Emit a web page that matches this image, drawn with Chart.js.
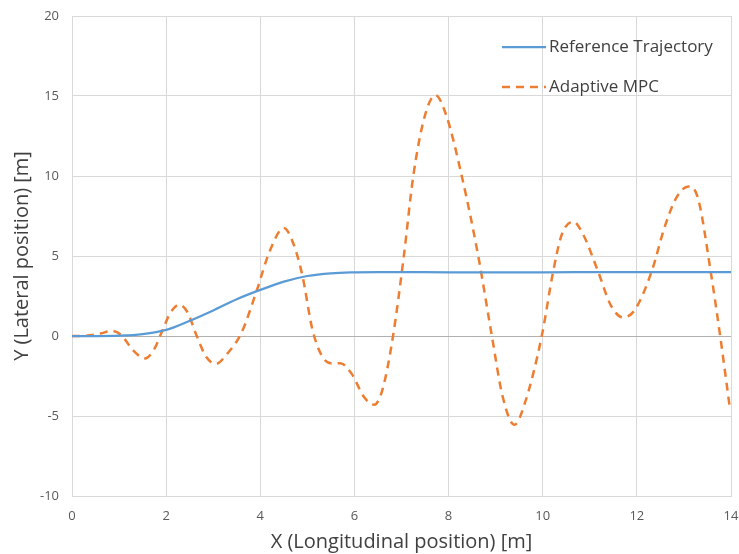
<!DOCTYPE html>
<html>
<head>
<meta charset="utf-8">
<script src="https://cdn.jsdelivr.net/npm/chart.js@4/dist/chart.umd.min.js"></script>
<style>
  html, body { margin: 0; padding: 0; background: #ffffff; }
  #wrap { width: 739px; height: 554px; position: relative; }
</style>
</head>
<body>
<div id="wrap"><canvas id="c" width="739" height="554"></canvas></div>
<script>
// ---- Data ----
const seriesNames = ['Reference Trajectory', 'Adaptive MPC'];

const refX = [0, 0.5, 1, 1.5, 2, 2.5, 3, 3.5, 4, 4.5, 5, 5.5, 6, 6.5, 7, 8, 9, 10, 11, 12, 13, 14];
const refY = [0, 0.0, 0.02, 0.12, 0.38, 0.95, 1.6, 2.3, 2.88, 3.4, 3.75, 3.92, 3.98, 4.0, 4.0, 3.98, 3.98, 3.98, 3.99, 4.0, 4.0, 4.0];

const mpcX = [0, 0.3, 0.6, 0.85, 1.05, 1.3, 1.55, 1.75, 1.9, 2.1, 2.28, 2.45, 2.65, 2.85, 3.05, 3.3, 3.6, 3.92,
              4.2, 4.5, 4.7, 4.9, 5.1, 5.3, 5.5, 5.7, 5.95, 6.2, 6.42, 6.6, 6.82, 7.05, 7.25, 7.5, 7.72, 7.95,
              8.28, 8.63, 8.92, 9.15, 9.4, 9.62, 9.98, 10.22, 10.4, 10.65, 10.85, 11.18, 11.45, 11.7, 11.95,
              12.31, 12.6, 12.85, 13.1, 13.3, 13.57, 13.77, 13.98];
const mpcY = [0, 0.02, 0.15, 0.32, 0.05, -0.9, -1.4, -0.8, 0.2, 1.5, 1.95, 1.5, 0.0, -1.3, -1.75, -1.1, 0.2, 2.8,
              5.3, 6.75, 5.8, 3.7, 0.5, -1.2, -1.7, -1.7, -2.4, -3.8, -4.3, -3.3, 0.0, 5.0, 10, 13.8, 15.05, 13.8,
              10, 5, 0, -3.8, -5.55, -4.2, 0, 4, 6.3, 7.15, 6.4, 4, 1.9, 1.17, 1.6,
              4, 6.9, 8.7, 9.35, 8.6, 4, 0, -4.6];

const xTicks = [0, 2, 4, 6, 8, 10, 12, 14];
const yTicks = [-10, -5, 0, 5, 10, 15, 20];
const xTitle = 'X (Longitudinal position) [m]';
const yTitle = 'Y (Lateral position) [m]';

// ---- Build datasets ----
const toPts = (xs, ys) => xs.map((x, i) => ({ x: x, y: ys[i] }));

const FONT = "'Open Sans', 'Liberation Sans', sans-serif";

const insideLegend = {
  id: 'insideLegend',
  afterDraw(chart) {
    const ctx = chart.ctx;
    const rows = [47, 87];
    ctx.save();
    chart.data.datasets.forEach((ds, i) => {
      const y = rows[i];
      ctx.beginPath();
      ctx.strokeStyle = ds.borderColor;
      ctx.lineWidth = ds.borderWidth;
      ctx.setLineDash(ds.borderDash || []);
      ctx.moveTo(502, y);
      ctx.lineTo(546, y);
      ctx.stroke();
      ctx.setLineDash([]);
      ctx.fillStyle = '#404040';
      ctx.font = "17px " + FONT;
      ctx.textBaseline = 'middle';
      ctx.textAlign = 'left';
      ctx.fillText(ds.label, 549, y);
    });
    ctx.restore();
  }
};

new Chart(document.getElementById('c'), {
  type: 'line',
  data: {
    datasets: [
      {
        label: seriesNames[0],
        data: toPts(refX, refY),
        borderColor: '#5B9BD5',
        borderWidth: 2.25,
        pointRadius: 0,
        cubicInterpolationMode: 'monotone',
        fill: false
      },
      {
        label: seriesNames[1],
        data: toPts(mpcX, mpcY),
        borderColor: '#ED7D31',
        borderWidth: 2.5,
        borderDash: [8, 6],
        pointRadius: 0,
        cubicInterpolationMode: 'monotone',
        fill: false
      }
    ]
  },
  options: {
    responsive: false,
    animation: false,
    devicePixelRatio: 1,
    layout: { padding: { left: 0, right: 8, top: 16, bottom: 0 } },
    plugins: {
      legend: { display: false },
      tooltip: { enabled: false }
    },
    scales: {
      x: {
        type: 'linear',
        min: xTicks[0],
        max: xTicks[xTicks.length - 1],
        afterBuildTicks: (s) => { s.ticks = xTicks.map(v => ({ value: v })); },
        afterFit: (s) => { s.height = 58; s.paddingLeft = 0; s.paddingRight = 0; },
        grid: { color: '#d9d9d9', lineWidth: 1, drawTicks: false },
        border: { color: '#d9d9d9' },
        ticks: { color: '#595959', font: { family: FONT, size: 13 }, padding: 12, maxRotation: 0 },
        title: { display: true, text: xTitle, color: '#404040', font: { family: FONT, size: 20 }, padding: { top: 0, bottom: 0 } }
      },
      y: {
        type: 'linear',
        min: yTicks[0],
        max: yTicks[yTicks.length - 1],
        afterBuildTicks: (s) => { s.ticks = yTicks.map(v => ({ value: v })); },
        afterFit: (s) => { s.width = 72; s.paddingTop = 0; s.paddingBottom = 0; },
        grid: {
          color: (c) => (c.tick && c.tick.value === 0) ? '#b0b0b0' : '#d9d9d9',
          lineWidth: 1, drawTicks: false
        },
        border: { color: '#d9d9d9' },
        ticks: { color: '#595959', font: { family: FONT, size: 13 }, padding: 13 },
        title: { display: true, text: yTitle, color: '#404040', font: { family: FONT, size: 20 }, padding: { top: 10, bottom: 0 } }
      }
    }
  },
  plugins: [insideLegend]
});
</script>
</body>
</html>
